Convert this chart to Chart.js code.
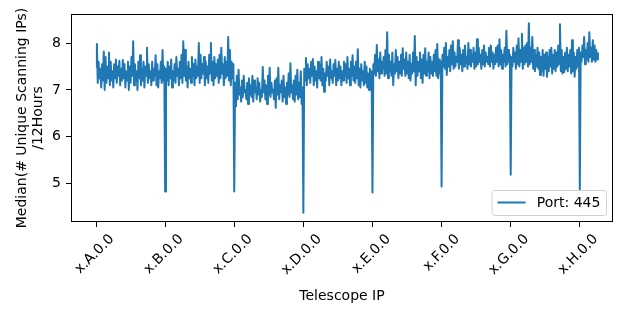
<!DOCTYPE html>
<html lang="en">
  <head>
    <meta charset="UTF-8" />
    <title>Port 445 scanning IPs</title>
    <style>
      html, body { margin: 0; padding: 0; background: #fff; }
      #wrap { width: 630px; height: 310px; }
    </style>
  </head>
  <body>
    <div id="wrap"><canvas id="myChart"></canvas></div>
    <script src="https://cdn.jsdelivr.net/npm/chart.js"></script>
    <script>
      // tick labels of the x axis (one per telescope block)
      const ipLabels = ["x.A.0.0", "x.B.0.0", "x.C.0.0", "x.D.0.0", "x.E.0.0", "x.F.0.0", "x.G.0.0", "x.H.0.0"];
      const seriesLabel = "Port: 445";
      // spacing of the columns, in telescope blocks
      const STEP = 0.025;

      // values, per column: the low point (trough) then the high point (peak).
      // the first trough of each block is the dip at x.?.0.0
      const troughsA = [7.5, 7.15, 7.25, 7.05, 7.2, 7.0, 7.15, 7.25, 7.1, 7.2, 7.05, 7.25, 7.15, 7.3, 7.1, 7.2, 7.25, 7.05, 7.2, 7.0,
        7.15, 7.3, 7.1, 7.2, 7.0, 7.25, 7.1, 7.2, 7.05, 7.3, 7.15, 7.25, 7.1, 7.2, 7.3, 7.1, 7.05, 7.25, 7.15, 7.2];
      const peaksA = [7.98, 7.6, 7.45, 7.55, 7.82, 7.7, 7.5, 7.8, 7.6, 7.4, 7.55, 7.65, 7.5, 7.62, 7.45, 7.64, 7.55, 7.4, 7.6, 7.5,
        7.7, 8.04, 7.55, 7.4, 7.6, 7.74, 7.45, 7.6, 7.5, 7.9, 7.55, 7.4, 7.6, 7.45, 7.74, 7.55, 7.4, 7.6, 7.85, 7.5];

      const troughsB = [4.83, 7.2, 7.1, 7.25, 7.05, 7.2, 7.15, 7.3, 7.1, 7.25, 7.15, 7.3, 7.2, 7.05, 7.25, 7.15, 7.3, 7.1, 7.25, 7.3,
        7.15, 7.25, 7.35, 7.1, 7.25, 7.15, 7.35, 7.2, 7.1, 7.25, 7.3, 7.15, 7.25, 7.35, 7.1, 7.25, 7.3, 7.2, 7.1, 7.25];
      const peaksB = [7.45, 7.6, 7.5, 7.65, 7.4, 7.55, 7.7, 7.45, 7.6, 7.75, 8.04, 7.85, 7.5, 7.6, 7.45, 7.7, 7.55, 7.65, 7.5, 8.0,
        7.75, 7.55, 7.7, 7.6, 7.5, 7.75, 8.0, 7.6, 7.7, 7.55, 7.65, 7.75, 7.9, 7.55, 7.7, 7.6, 8.13, 7.85, 7.6, 7.55];

      const troughsC = [4.83, 6.65, 6.8, 6.9, 6.75, 6.85, 6.95, 6.8, 6.7, 6.9, 6.85, 6.75, 6.95, 6.8, 6.9, 6.75, 6.85, 6.95, 6.8, 6.7,
        6.9, 6.85, 6.95, 6.8, 6.62, 6.9, 6.8, 6.95, 6.75, 6.85, 6.7, 6.9, 6.85, 6.95, 6.8, 6.75, 6.9, 6.8, 6.85, 6.7];
      const peaksC = [7.15, 7.3, 7.43, 7.05, 7.2, 7.3, 7.0, 7.15, 7.25, 7.1, 7.3, 7.2, 7.05, 7.25, 7.15, 7.0, 7.49, 7.2, 7.1, 7.3,
        7.47, 7.15, 7.0, 7.2, 7.25, 7.47, 7.1, 7.2, 7.3, 7.05, 7.15, 7.35, 7.57, 7.1, 7.2, 7.3, 7.43, 7.15, 7.4, 7.05];

      const troughsD = [4.38, 7.2, 7.1, 7.25, 7.15, 7.3, 7.1, 7.2, 7.05, 7.25, 7.2, 7.1, 6.96, 7.2, 7.3, 7.1, 7.25, 7.15, 7.3, 7.1,
        7.2, 7.25, 7.1, 7.2, 7.3, 7.15, 7.25, 7.1, 7.3, 7.2, 7.15, 7.25, 7.1, 7.05, 7.2, 7.1, 7.15, 7.05, 7.0, 7.1];
      const peaksD = [7.45, 7.68, 7.55, 7.45, 7.6, 7.66, 7.5, 7.4, 7.6, 7.55, 7.7, 7.45, 7.35, 7.6, 7.5, 7.65, 7.4, 7.55, 7.64, 7.45,
        7.6, 7.5, 7.4, 7.6, 7.55, 7.7, 7.45, 7.6, 7.74, 7.5, 7.6, 7.87, 7.45, 7.55, 7.4, 7.6, 7.5, 7.35, 7.45, 7.4];

      const troughsE = [4.81, 7.35, 7.3, 7.4, 7.25, 7.35, 7.45, 7.3, 7.35, 7.25, 7.4, 7.3, 7.1, 7.35, 7.4, 7.25, 7.35, 7.3, 7.45, 7.3,
        7.35, 7.25, 7.2, 7.35, 7.4, 7.1, 7.3, 7.4, 7.25, 7.15, 7.35, 7.3, 7.4, 7.25, 7.35, 7.3, 7.4, 7.3, 7.25, 7.35];
      const peaksE = [7.55, 7.75, 7.96, 7.65, 7.8, 7.6, 7.7, 7.85, 8.23, 7.75, 7.6, 7.8, 7.55, 7.85, 7.7, 7.6, 7.75, 7.89, 7.65, 7.8,
        7.6, 7.75, 7.55, 7.8, 8.15, 7.7, 7.6, 7.8, 7.65, 7.75, 7.89, 7.6, 7.8, 7.7, 7.6, 7.75, 7.85, 7.98, 7.65, 7.6];

      const troughsF = [4.94, 7.5, 7.45, 7.32, 7.5, 7.4, 7.55, 7.45, 7.5, 7.6, 7.45, 7.55, 7.4, 7.5, 7.6, 7.45, 7.55, 7.5, 7.6, 7.45,
        7.5, 7.55, 7.6, 7.45, 7.55, 7.5, 7.6, 7.55, 7.5, 7.6, 7.45, 7.55, 7.6, 7.5, 7.55, 7.45, 7.6, 7.5, 7.55, 7.6];
      const peaksF = [7.75, 7.9, 8.0, 7.7, 7.85, 7.95, 8.04, 7.8, 7.7, 8.06, 7.9, 7.75, 7.85, 7.95, 7.7, 8.0, 7.85, 7.75, 7.9, 7.8,
        8.08, 7.9, 7.75, 7.85, 7.95, 7.8, 7.7, 7.9, 7.95, 7.8, 7.75, 7.9, 7.95, 8.08, 7.85, 7.75, 7.9, 8.26, 7.85, 7.75];

      const troughsG = [5.19, 7.5, 7.6, 7.45, 7.55, 7.5, 7.6, 7.45, 7.55, 7.6, 7.5, 7.55, 7.6, 7.45, 7.4, 7.5, 7.45, 7.32, 7.4, 7.3,
        7.45, 7.28, 7.4, 7.5, 7.35, 7.45, 7.4, 7.5, 7.55, 7.4, 7.35, 7.38, 7.45, 7.4, 7.5, 7.35, 7.4, 7.28, 7.45, 7.5];
      const peaksG = [7.7, 7.9, 7.8, 7.95, 8.1, 7.85, 8.2, 7.9, 7.95, 8.0, 8.42, 7.9, 8.13, 7.85, 7.75, 7.9, 7.8, 7.7, 7.85, 7.75,
        7.8, 7.7, 7.85, 7.9, 7.75, 7.85, 7.8, 7.95, 8.4, 7.85, 7.7, 7.8, 7.9, 7.75, 7.85, 8.06, 7.8, 7.7, 7.85, 7.9];

      const troughsH = [4.88, 7.6, 7.7, 7.55, 7.65, 7.6, 7.7, 7.6, 7.65, 7.6, 7.65];
      const peaksH = [7.8, 7.95, 8.13, 7.85, 8.0, 8.23, 7.9, 8.06, 7.95, 7.85, 7.8];

      const blocks = [
        [troughsA, peaksA], [troughsB, peaksB], [troughsC, peaksC], [troughsD, peaksD],
        [troughsE, peaksE], [troughsF, peaksF], [troughsG, peaksG], [troughsH, peaksH],
      ];
      const points = [];
      blocks.forEach(([lows, highs], k) => {
        lows.forEach((lo, i) => {
          points.push({ x: k + i * STEP, y: lo });
          points.push({ x: k + (i + 0.5) * STEP, y: highs[i] });
        });
      });

      Chart.defaults.font.family = "'DejaVu Sans', sans-serif";
      Chart.defaults.font.size = 14;
      Chart.defaults.color = "#000";

      // matplotlib style frame round the plot
      const frame = {
        id: "frame",
        afterDraw(chart) {
          const { ctx, chartArea: a } = chart;
          ctx.save();
          ctx.strokeStyle = "#000";
          ctx.lineWidth = 1;
          ctx.strokeRect(a.left + 0.5, a.top + 0.5, a.right - a.left - 1, a.bottom - a.top - 1);
          ctx.restore();
        },
      };

      // legend in the lower right corner, inside the axes
      const legendBox = {
        id: "legendBox",
        afterDraw(chart) {
          const { ctx, chartArea: a } = chart;
          const ds = chart.data.datasets[0];
          ctx.save();
          ctx.font = "14px 'DejaVu Sans'";
          const tw = ctx.measureText(ds.label).width;
          const w = 5.6 + 28 + 11.2 + tw + 6;
          const h = 25;
          const x = a.right - 7 - w;
          const y = a.bottom - 7 - h;
          ctx.beginPath();
          ctx.roundRect(x + 0.5, y + 0.5, w, h, 3);
          ctx.fillStyle = "rgba(255,255,255,0.8)";
          ctx.fill();
          ctx.strokeStyle = "#d0d0d0";
          ctx.lineWidth = 1;
          ctx.stroke();
          ctx.beginPath();
          ctx.moveTo(x + 6, y + h / 2);
          ctx.lineTo(x + 6 + 28, y + h / 2);
          ctx.strokeStyle = ds.borderColor;
          ctx.lineWidth = 2;
          ctx.stroke();
          ctx.fillStyle = "#000";
          ctx.textBaseline = "middle";
          ctx.fillText(ds.label, x + 6 + 28 + 11.2, y + h / 2 + 1);
          ctx.restore();
        },
      };

      const ctx = document.getElementById("myChart").getContext("2d");
      new Chart(ctx, {
        type: "line",
        plugins: [frame, legendBox],
        data: {
          datasets: [
            {
              label: seriesLabel,
              data: points,
              borderColor: "#1f77b4",
              borderWidth: 2,
              borderJoinStyle: "round",
              pointRadius: 0,
              tension: 0,
              fill: false,
            },
          ],
        },
        options: {
          responsive: true,
          maintainAspectRatio: false,
          animation: false,
          layout: { padding: { top: 14, right: 17, bottom: 0, left: 0 } },
          plugins: {
            legend: { display: false },
            tooltip: { enabled: false },
          },
          scales: {
            x: {
              type: "linear",
              min: -0.362,
              max: 7.48,
              afterFit: (scale) => { scale.height = 88; },
              grid: { drawOnChartArea: false, drawTicks: true, tickLength: 5, color: "#000" },
              border: { display: false },
              ticks: {
                stepSize: 1,
                includeBounds: false,
                autoSkip: false,
                minRotation: 45,
                maxRotation: 45,
                labelOffset: 16,
                padding: 4,
                callback: (v) => ipLabels[v] ?? "",
              },
              title: { display: true, text: "Telescope IP", padding: { top: 0, bottom: 5 } },
            },
            y: {
              min: 4.18,
              max: 8.62,
              afterFit: (scale) => { scale.width = 71; },
              grid: { drawOnChartArea: false, drawTicks: true, tickLength: 5, color: "#000" },
              border: { display: false },
              ticks: { stepSize: 1, includeBounds: false, padding: 5 },
              title: {
                display: true,
                text: ["Median(# Unique Scanning IPs)", "/12Hours"],
                font: { lineHeight: 1.15 },
                padding: { top: 14, bottom: 0 },
              },
            },
          },
        },
      });
    </script>
  </body>
</html>
